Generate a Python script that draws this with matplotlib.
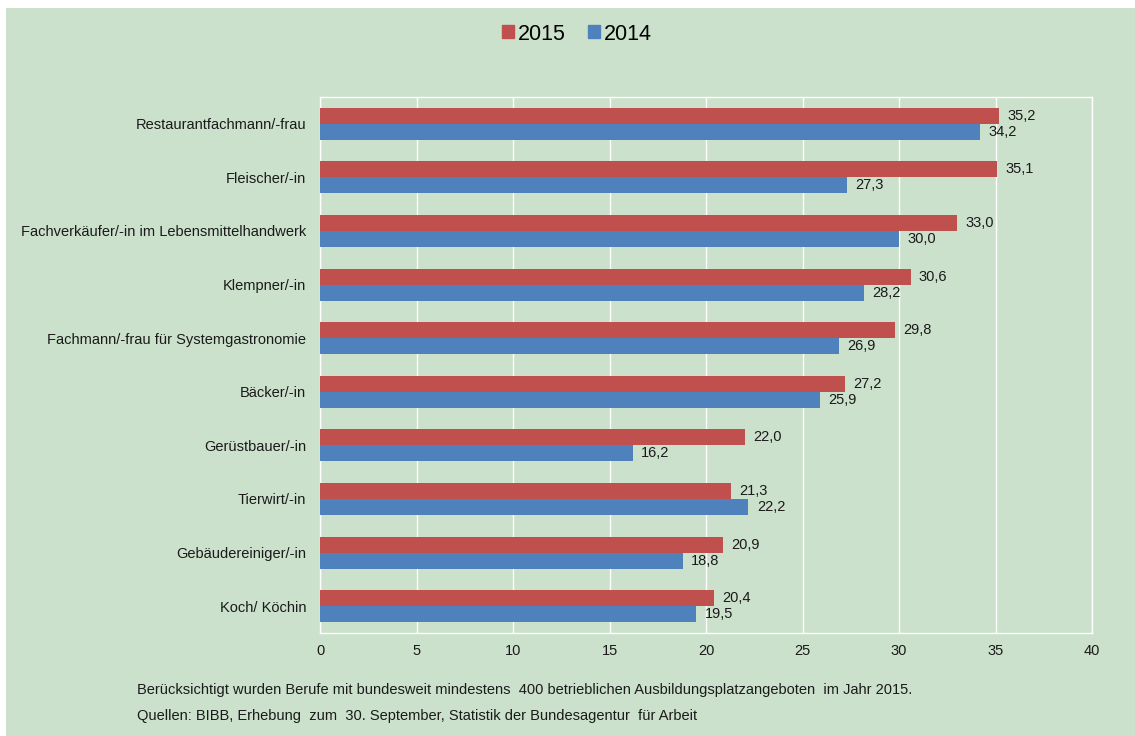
import matplotlib.pyplot as plt
from matplotlib.patches import Rectangle, Patch

berufe = ['Restaurantfachmann/-frau', 'Fleischer/-in',
          'Fachverkäufer/-in im Lebensmittelhandwerk', 'Klempner/-in',
          'Fachmann/-frau für Systemgastronomie', 'Bäcker/-in',
          'Gerüstbauer/-in', 'Tierwirt/-in', 'Gebäudereiniger/-in',
          'Koch/ Köchin']
werte_2015 = [35.2, 35.1, 33.0, 30.6, 29.8, 27.2, 22.0, 21.3, 20.9, 20.4]
werte_2014 = [34.2, 27.3, 30.0, 28.2, 26.9, 25.9, 16.2, 22.2, 18.8, 19.5]
x_ticks = [0, 5, 10, 15, 20, 25, 30, 35, 40]

rot = '#C0504D'
blau = '#4F81BD'
gruen = '#CCE1CC'
txt = '#1a1a1a'

plt.rcParams['font.family'] = ['Liberation Sans', 'DejaVu Sans']

fig = plt.figure(figsize=(11.35, 7.36), dpi=100, facecolor='white')
# gruener Hintergrund mit schmalem weissen Rand oben/links
fig.patches.append(Rectangle((6 / 1135, 0), 1 - 6 / 1135, 1 - 8 / 736,
                             transform=fig.transFigure, facecolor=gruen,
                             edgecolor='none', zorder=-5))

ax = fig.add_axes([320 / 1135, 103 / 736, 772 / 1135, 536 / 736])
ax.set_zorder(2)
ax.set_facecolor(gruen)

y = list(range(len(berufe)))
h = 0.3
y15 = [i - h / 2 for i in y]
y14 = [i + h / 2 for i in y]
ax.barh(y15, werte_2015, height=h, color=rot, zorder=3)
ax.barh(y14, werte_2014, height=h, color=blau, zorder=3)

for yy, v in zip(y15, werte_2015):
    ax.annotate(f'{v:.1f}'.replace('.', ','), (v, yy), xytext=(6, 0),
                textcoords='offset points', va='center', ha='left',
                fontsize=10.5, color=txt)
for yy, v in zip(y14, werte_2014):
    ax.annotate(f'{v:.1f}'.replace('.', ','), (v, yy), xytext=(6, 0),
                textcoords='offset points', va='center', ha='left',
                fontsize=10.5, color=txt)

ax.set_xlim(0, 40)
ax.set_ylim(len(berufe) - 0.5, -0.5)
ax.set_xticks(x_ticks)
ax.set_xticklabels([str(t) for t in x_ticks])
ax.set_yticks(y)
ax.set_yticklabels(berufe)
ax.tick_params(axis='both', length=0, labelsize=10.5, colors=txt)
ax.tick_params(axis='x', pad=8)
ax.tick_params(axis='y', pad=10)
ax.grid(axis='x', color='white', lw=1, zorder=1)
for s in ax.spines.values():
    s.set_color('white')
    s.set_linewidth(1)

handles = [Patch(color=rot, label='2015'), Patch(color=blau, label='2014')]
fig.legend(handles=handles, loc='center', bbox_to_anchor=(577 / 1135, 1 - 34 / 736),
           ncol=2, frameon=False, fontsize=15.5, handlelength=0.55,
           handleheight=0.55, handletextpad=0.2, columnspacing=1.0)

fig.text(137 / 1135, 1 - 690 / 736,
         'Berücksichtigt wurden Berufe mit bundesweit mindestens  400 betrieblichen '
         'Ausbildungsplatzangeboten  im Jahr 2015.',
         fontsize=10.5, color=txt, va='center', ha='left')
fig.text(137 / 1135, 1 - 716 / 736,
         'Quellen: BIBB, Erhebung  zum  30. September, Statistik der Bundesagentur  für Arbeit',
         fontsize=10.5, color=txt, va='center', ha='left')

fig.savefig('out.png', dpi=100, facecolor=fig.get_facecolor())
